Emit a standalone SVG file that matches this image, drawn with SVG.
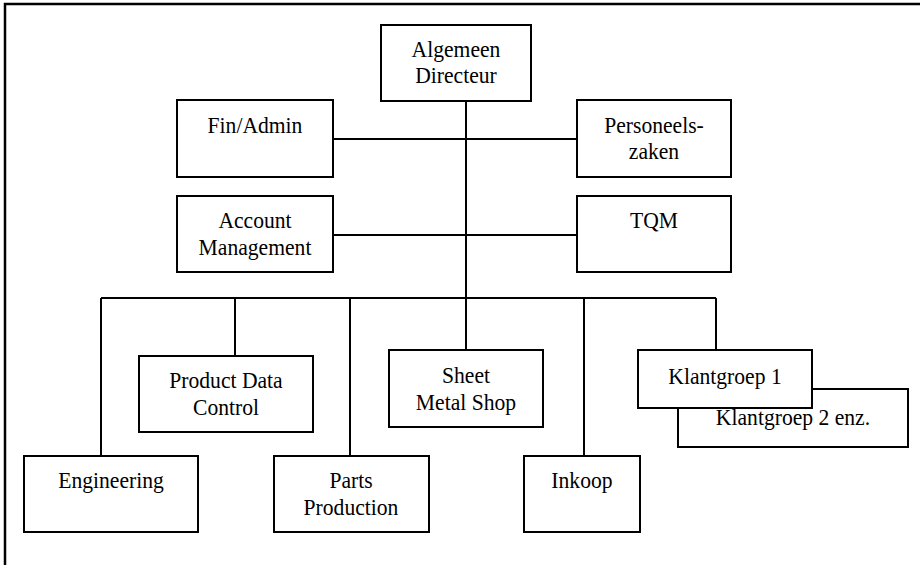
<svg xmlns="http://www.w3.org/2000/svg" width="920" height="565" viewBox="0 0 920 565">
  <style>
    .box { fill: #ffffff; stroke: #000000; stroke-width: 2; }
    .frame { fill: none; stroke: #000000; stroke-width: 2.5; }
    .wire { fill: none; stroke: #000000; stroke-width: 2; }
    .lbl { font-family: "Liberation Serif", "Times New Roman", serif; font-size: 23px; fill: #000000; text-anchor: middle;
           transform-box: fill-box; transform-origin: center; transform: scaleX(0.94); }
  </style>
  <rect width="920" height="565" fill="#ffffff"/>
  <rect class="frame" x="5" y="4" width="940" height="590"/>

  <g id="connectors">
    <path class="wire" d="M466 101 V298"/>
    <path class="wire" d="M333 139 H577"/>
    <path class="wire" d="M333 235 H577"/>
    <path class="wire" d="M101 298 H716"/>
    <path class="wire" d="M101 298 V456"/>
    <path class="wire" d="M235 298 V356"/>
    <path class="wire" d="M350 298 V456"/>
    <path class="wire" d="M466 298 V350"/>
    <path class="wire" d="M584 298 V456"/>
    <path class="wire" d="M716 298 V350"/>
  </g>

  <g id="algemeen-directeur">
    <rect class="box" x="381" y="25" width="150" height="76"/>
    <text class="lbl" x="456" y="57">Algemeen</text>
    <text class="lbl" x="456" y="83">Directeur</text>
  </g>
  <g id="fin-admin">
    <rect class="box" x="177" y="100" width="156" height="77"/>
    <text class="lbl" x="255" y="133">Fin/Admin</text>
  </g>
  <g id="personeelszaken">
    <rect class="box" x="577" y="100" width="154" height="77"/>
    <text class="lbl" x="654" y="133">Personeels-</text>
    <text class="lbl" x="654" y="159">zaken</text>
  </g>
  <g id="account-management">
    <rect class="box" x="177" y="196" width="156" height="76"/>
    <text class="lbl" x="255" y="228">Account</text>
    <text class="lbl" x="255" y="255">Management</text>
  </g>
  <g id="tqm">
    <rect class="box" x="577" y="196" width="154" height="76"/>
    <text class="lbl" x="654" y="228">TQM</text>
  </g>
  <g id="product-data-control">
    <rect class="box" x="139" y="356" width="174" height="76"/>
    <text class="lbl" x="226" y="388">Product Data</text>
    <text class="lbl" x="226" y="415">Control</text>
  </g>
  <g id="sheet-metal-shop">
    <rect class="box" x="389" y="350" width="154" height="77"/>
    <text class="lbl" x="466" y="383">Sheet</text>
    <text class="lbl" x="466" y="410">Metal Shop</text>
  </g>
  <g id="klantgroep-2">
    <rect class="box" x="678" y="389" width="230" height="58"/>
    <text class="lbl" x="793" y="425">Klantgroep 2 enz.</text>
  </g>
  <g id="klantgroep-1">
    <rect class="box" x="638" y="350" width="174" height="58"/>
    <text class="lbl" x="725" y="384">Klantgroep 1</text>
  </g>
  <g id="engineering">
    <rect class="box" x="24" y="456" width="174" height="76"/>
    <text class="lbl" x="111" y="488">Engineering</text>
  </g>
  <g id="parts-production">
    <rect class="box" x="274" y="456" width="155" height="76"/>
    <text class="lbl" x="351" y="488">Parts</text>
    <text class="lbl" x="351" y="515">Production</text>
  </g>
  <g id="inkoop">
    <rect class="box" x="524" y="456" width="116" height="76"/>
    <text class="lbl" x="582" y="488">Inkoop</text>
  </g>
</svg>
